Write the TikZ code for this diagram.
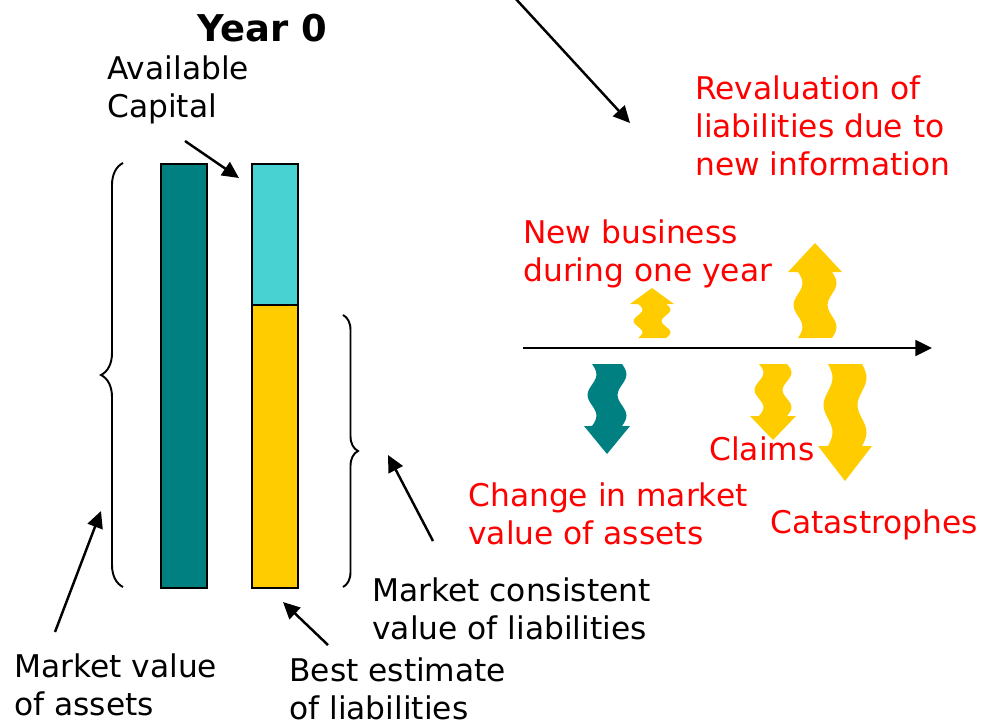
\documentclass[tikz,border=0pt]{standalone}
\usepackage{fontspec}
\setmainfont{DejaVu Sans}
\usetikzlibrary{arrows.meta, decorations.pathreplacing}

\definecolor{assetteal}{RGB}{0,128,128}
\definecolor{capcyan}{RGB}{72,210,210}
\definecolor{liabyellow}{RGB}{255,204,0}

% wavy block arrow: x centre, shaft start, head base, tip, half shaft, half head, colour
\newcommand{\wavyarrow}[7]{%
  \fill[#7] plot[smooth, domain=0:1, samples=19] ({#1-#5+4.5*sin(540*\x)},{#2+(#3-#2)*\x})
    -- (#1-#6,#3) -- (#1,#4) -- (#1+#6,#3)
    -- plot[smooth, domain=0:1, samples=19] ({#1+#5+4.5*sin(540*(1-\x))},{#2+(#3-#2)*(1-\x)})
    -- cycle;}

\begin{document}
\begin{tikzpicture}[x=0.02cm, y=-0.02cm,
    lbl/.style={font=\fontsize{17.8}{21.6}\selectfont, align=left, inner sep=0pt, anchor=north west},
    redlbl/.style={lbl, text=red},
    ptr/.style={line width=1.4pt, -{Triangle[length=9.5pt,width=9pt]}},
    bar/.style={draw=black, line width=1.2pt, inner sep=0pt, anchor=north west},
    brc/.style={decorate, decoration={brace, amplitude=#1}, line width=1.1pt}]
    \useasboundingbox (0,0) rectangle (982,727);

    % balance sheet at year 0
    \node[font=\bfseries\fontsize{21}{25}\selectfont, inner sep=0pt] (year) at (262,28) {Year 0};
    \node[bar, fill=assetteal, minimum width=0.92cm, minimum height=8.48cm] (assets) at (160,163) {};
    \node[bar, fill=liabyellow, minimum width=0.92cm, minimum height=5.66cm] (bestest) at (251,304) {};
    \node[bar, fill=capcyan, minimum width=0.92cm, minimum height=2.82cm] (capital) at (251,163) {};
    \draw[brc=0.44cm] (123,587) -- (123,163);
    \draw[brc=0.3cm] (343,315) -- (343,587);

    \node[lbl] (avail) at (107,55) {Available\\Capital};
    \node[lbl] (mcvl) at (372,577) {Market consistent\\value of liabilities};
    \node[lbl] (mva) at (14,653) {Market value\\of assets};
    \node[lbl] (bel) at (289,657) {Best estimate\\of liabilities};

    \coordinate (availtail) at (185,141);
    \coordinate (availtip) at (239,178);
    \coordinate (mcvltail) at (433,541);
    \coordinate (mcvltip) at (388,455);
    \coordinate (mvatail) at (55,632);
    \coordinate (mvatip) at (101,511);
    \coordinate (beltail) at (328,645);
    \coordinate (beltip) at (283,602);
    \draw[ptr] (availtail) -- (availtip);
    \draw[ptr] (mcvltail) -- (mcvltip);
    \draw[ptr] (mvatail) -- (mvatip);
    \draw[ptr] (beltail) -- (beltip);

    % changes during the year
    \coordinate (toptail) at (515,-2);
    \coordinate (toptip) at (630,123);
    \draw[ptr] (toptail) -- (toptip);
    \coordinate (axisstart) at (523,348);
    \coordinate (axisend) at (932,348);
    \draw[ptr] (axisstart) -- (axisend);

    \node[redlbl] (reval) at (695,75) {Revaluation of\\liabilities due to\\new information};
    \node[redlbl] (newbiz) at (523,219) {New business\\during one year};
    \node[redlbl] (claims) at (709,436) {Claims};
    \node[redlbl] (chgmkt) at (468,482) {Change in market\\value of assets};
    \node[redlbl] (catas) at (770,509) {Catastrophes};

    \wavyarrow{652}{338}{304}{288}{14}{22}{liabyellow}
    \wavyarrow{815}{338}{272}{243}{17}{27}{liabyellow}
    \wavyarrow{607}{364}{426}{454}{15}{23}{assetteal}
    \wavyarrow{773}{364}{416}{440}{14}{23}{liabyellow}
    \wavyarrow{845}{364}{446}{481}{17}{27}{liabyellow}
\end{tikzpicture}
\end{document}
